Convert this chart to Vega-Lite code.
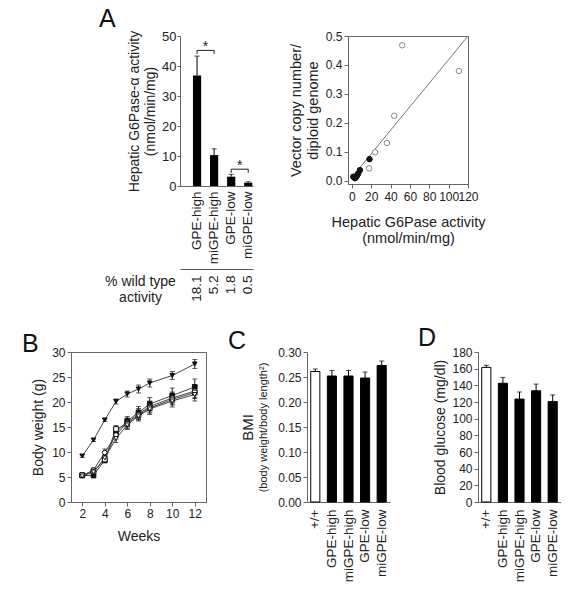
{
  "$schema": "https://vega.github.io/schema/vega-lite/v6.json",
  "background": "white",
  "padding": {"left": 21, "top": 7, "right": 0, "bottom": 0},
  "bounds": "flush",
  "spacing": 316,
  "resolve": {"scale": {"fill": "independent", "shape": "independent", "stroke": "independent"}},
  "config": {
    "font": "Liberation Sans",
    "view": {"stroke": null},
    "axis": {
      "grid": false,
      "domainColor": "#666",
      "tickColor": "#666",
      "labelColor": "#222",
      "titleColor": "#222",
      "labelFont": "Liberation Sans",
      "titleFont": "Liberation Sans",
      "titleFontWeight": "normal",
      "labelFontSize": 12,
      "titleFontSize": 14,
      "tickSize": 4,
      "labelPadding": 2,
      "labelOverlap": false,
      "labelFlush": false
    },
    "title": {
      "anchor": "start",
      "frame": "group",
      "fontSize": 25,
      "fontWeight": "normal",
      "color": "#111",
      "baseline": "alphabetic",
      "offset": 0
    }
  },
  "datasets": {
    "abar": [
      {"group": "GPE-high", "pct": "18.1", "activity": 36.8, "hi": 43.3},
      {"group": "miGPE-high", "pct": "5.2", "activity": 10.3, "hi": 12.4},
      {"group": "GPE-low", "pct": "1.8", "activity": 3.1, "hi": 3.9},
      {"group": "miGPE-low", "pct": "0.5", "activity": 1.1, "hi": 1.4}
    ],
    "brackets": [
      {"a": "GPE-high", "b": "miGPE-high", "y": 45.2, "ytick": 44.0, "star": "*"},
      {"a": "GPE-low", "b": "miGPE-low", "y": 5.6, "ytick": 4.4, "star": "*"}
    ],
    "scatter": [
      {"activity": 52.0, "copies": 0.468, "type": "open"},
      {"activity": 110.6, "copies": 0.379, "type": "open"},
      {"activity": 43.7, "copies": 0.224, "type": "open"},
      {"activity": 36.2, "copies": 0.130, "type": "open"},
      {"activity": 24.1, "copies": 0.098, "type": "open"},
      {"activity": 17.9, "copies": 0.042, "type": "open"},
      {"activity": 18.2, "copies": 0.074, "type": "filled"},
      {"activity": 8.3, "copies": 0.036, "type": "filled"},
      {"activity": 6.5, "copies": 0.024, "type": "filled"},
      {"activity": 5.5, "copies": 0.018, "type": "filled"},
      {"activity": 4.3, "copies": 0.011, "type": "filled"},
      {"activity": 3.2, "copies": 0.008, "type": "filled"},
      {"activity": 1.5, "copies": 0.013, "type": "filled"}
    ],
    "fit": [
      {"activity": 0, "copies": 0.011},
      {"activity": 120, "copies": 0.5}
    ],
    "weights": [
      {"series": "+/+", "week": 2, "mean": 9.2, "lo": 8.9, "hi": 9.5},
      {"series": "+/+", "week": 3, "mean": 12.4, "lo": 12.1, "hi": 12.7},
      {"series": "+/+", "week": 4, "mean": 16.4, "lo": 16.1, "hi": 16.7},
      {"series": "+/+", "week": 5, "mean": 20.1, "lo": 19.6, "hi": 20.6},
      {"series": "+/+", "week": 6, "mean": 21.6, "lo": 21.0, "hi": 22.2},
      {"series": "+/+", "week": 7, "mean": 22.6, "lo": 21.8, "hi": 23.4},
      {"series": "+/+", "week": 8, "mean": 23.8, "lo": 23.0, "hi": 24.6},
      {"series": "+/+", "week": 10, "mean": 25.3, "lo": 24.5, "hi": 26.1},
      {"series": "+/+", "week": 12, "mean": 27.6, "lo": 26.7, "hi": 28.5},
      {"series": "GPE-high", "week": 2, "mean": 5.3, "lo": 5.0, "hi": 5.6},
      {"series": "GPE-high", "week": 3, "mean": 5.3, "lo": 4.9, "hi": 5.7},
      {"series": "GPE-high", "week": 4, "mean": 8.4, "lo": 7.8, "hi": 9.0},
      {"series": "GPE-high", "week": 5, "mean": 13.9, "lo": 13.1, "hi": 14.7},
      {"series": "GPE-high", "week": 6, "mean": 16.2, "lo": 15.3, "hi": 17.1},
      {"series": "GPE-high", "week": 7, "mean": 17.9, "lo": 16.7, "hi": 19.1},
      {"series": "GPE-high", "week": 8, "mean": 19.6, "lo": 18.3, "hi": 20.9},
      {"series": "GPE-high", "week": 10, "mean": 21.3, "lo": 19.8, "hi": 22.8},
      {"series": "GPE-high", "week": 12, "mean": 23.0, "lo": 21.4, "hi": 24.6},
      {"series": "miGPE-high", "week": 2, "mean": 5.3, "lo": 5.0, "hi": 5.6},
      {"series": "miGPE-high", "week": 3, "mean": 6.4, "lo": 6.0, "hi": 6.8},
      {"series": "miGPE-high", "week": 4, "mean": 9.9, "lo": 9.2, "hi": 10.6},
      {"series": "miGPE-high", "week": 5, "mean": 13.4, "lo": 12.6, "hi": 14.2},
      {"series": "miGPE-high", "week": 6, "mean": 15.9, "lo": 15.0, "hi": 16.8},
      {"series": "miGPE-high", "week": 7, "mean": 17.6, "lo": 16.5, "hi": 18.7},
      {"series": "miGPE-high", "week": 8, "mean": 19.1, "lo": 18.0, "hi": 20.2},
      {"series": "miGPE-high", "week": 10, "mean": 20.8, "lo": 19.6, "hi": 22.0},
      {"series": "miGPE-high", "week": 12, "mean": 22.2, "lo": 20.9, "hi": 23.5},
      {"series": "GPE-low", "week": 2, "mean": 5.4, "lo": 5.1, "hi": 5.7},
      {"series": "GPE-low", "week": 3, "mean": 6.1, "lo": 5.7, "hi": 6.5},
      {"series": "GPE-low", "week": 4, "mean": 8.5, "lo": 7.9, "hi": 9.1},
      {"series": "GPE-low", "week": 5, "mean": 14.6, "lo": 13.9, "hi": 15.3},
      {"series": "GPE-low", "week": 6, "mean": 15.6, "lo": 14.7, "hi": 16.5},
      {"series": "GPE-low", "week": 7, "mean": 17.4, "lo": 16.4, "hi": 18.4},
      {"series": "GPE-low", "week": 8, "mean": 18.8, "lo": 17.8, "hi": 19.8},
      {"series": "GPE-low", "week": 10, "mean": 20.5, "lo": 19.4, "hi": 21.6},
      {"series": "GPE-low", "week": 12, "mean": 21.9, "lo": 20.7, "hi": 23.1},
      {"series": "miGPE-low", "week": 2, "mean": 5.2, "lo": 4.9, "hi": 5.5},
      {"series": "miGPE-low", "week": 3, "mean": 6.0, "lo": 5.6, "hi": 6.4},
      {"series": "miGPE-low", "week": 4, "mean": 8.8, "lo": 8.2, "hi": 9.4},
      {"series": "miGPE-low", "week": 5, "mean": 12.7, "lo": 11.9, "hi": 13.5},
      {"series": "miGPE-low", "week": 6, "mean": 15.4, "lo": 14.5, "hi": 16.3},
      {"series": "miGPE-low", "week": 7, "mean": 17.2, "lo": 16.2, "hi": 18.2},
      {"series": "miGPE-low", "week": 8, "mean": 18.6, "lo": 17.5, "hi": 19.7},
      {"series": "miGPE-low", "week": 10, "mean": 20.2, "lo": 19.0, "hi": 21.4},
      {"series": "miGPE-low", "week": 12, "mean": 21.5, "lo": 20.2, "hi": 22.8}
    ],
    "bmi": [
      {"group": "+/+", "kind": "wild type", "bmi": 0.261, "hi": 0.266},
      {"group": "GPE-high", "kind": "treated", "bmi": 0.252, "hi": 0.263},
      {"group": "miGPE-high", "kind": "treated", "bmi": 0.252, "hi": 0.263},
      {"group": "GPE-low", "kind": "treated", "bmi": 0.248, "hi": 0.260},
      {"group": "miGPE-low", "kind": "treated", "bmi": 0.273, "hi": 0.282}
    ],
    "glucose": [
      {"group": "+/+", "kind": "wild type", "glucose": 161.5, "hi": 164},
      {"group": "GPE-high", "kind": "treated", "glucose": 142.5, "hi": 149.5},
      {"group": "miGPE-high", "kind": "treated", "glucose": 123.5, "hi": 132},
      {"group": "GPE-low", "kind": "treated", "glucose": 133.5, "hi": 141.5},
      {"group": "miGPE-low", "kind": "treated", "glucose": 120.5, "hi": 128.5}
    ]
  },
  "vconcat": [
    {
      "bounds": "flush",
      "spacing": 95,
      "resolve": {"scale": {"fill": "independent", "shape": "independent", "stroke": "independent"}},
      "hconcat": [
        {
          "width": 14,
          "height": 10,
          "data": {"values": [{"blank": 1}]},
          "mark": {"type": "point", "opacity": 0},
          "encoding": {}
        },
        {
          "width": 73,
          "height": 150,
          "title": {"text": "A", "dx": -81, "dy": 6},
          "layer": [
            {
              "layer": [
                {
                  "data": {"name": "abar"},
                  "mark": {"type": "bar", "color": "#000"},
                  "encoding": {
                    "x": {
                      "field": "group", "type": "nominal",
                      "scale": {"domain": ["GPE-high", "miGPE-high", "GPE-low", "miGPE-low"], "paddingInner": 0.52, "paddingOuter": 0.4, "align": 0.95},
                      "axis": {"title": null, "labelAngle": -90, "ticks": false, "domain": true, "labelFontSize": 13.5, "labelPadding": 5}
                    },
                    "y": {
                      "field": "activity", "type": "quantitative",
                      "scale": {"domain": [0, 50], "nice": false},
                      "axis": {"values": [0, 10, 20, 30, 40, 50], "tickCount": 20, "format": "d", "title": ["Hepatic G6Pase-α activity", "(nmol/min/mg)"], "labelFontSize": 13, "tickSize": 3, "labelPadding": 1, "titlePadding": 4, "titleFontSize": 14}
                    }
                  }
                },
                {
                  "data": {"name": "abar"},
                  "mark": {"type": "rule", "color": "#000", "strokeWidth": 1},
                  "encoding": {
                    "x": {"field": "group", "type": "nominal", "bandPosition": 0.5, "scale": {"domain": ["GPE-high", "miGPE-high", "GPE-low", "miGPE-low"], "paddingInner": 0.52, "paddingOuter": 0.4, "align": 0.95}},
                    "y": {"field": "activity", "type": "quantitative"},
                    "y2": {"field": "hi"}
                  }
                },
                {
                  "data": {"name": "abar"},
                  "mark": {"type": "tick", "orient": "horizontal", "color": "#000", "size": 5, "thickness": 1},
                  "encoding": {
                    "x": {"field": "group", "type": "nominal", "scale": {"domain": ["GPE-high", "miGPE-high", "GPE-low", "miGPE-low"], "paddingInner": 0.52, "paddingOuter": 0.4, "align": 0.95}},
                    "y": {"field": "hi", "type": "quantitative"}
                  }
                },
                {
                  "data": {"name": "brackets"},
                  "mark": {"type": "rule", "color": "#222", "strokeWidth": 1},
                  "encoding": {
                    "x": {"field": "a", "type": "nominal", "bandPosition": 0.5, "scale": {"domain": ["GPE-high", "miGPE-high", "GPE-low", "miGPE-low"], "paddingInner": 0.52, "paddingOuter": 0.4, "align": 0.95}},
                    "x2": {"field": "b"},
                    "y": {"field": "y", "type": "quantitative"}
                  }
                },
                {
                  "data": {"name": "brackets"},
                  "mark": {"type": "rule", "color": "#222", "strokeWidth": 1},
                  "encoding": {
                    "x": {"field": "a", "type": "nominal", "bandPosition": 0.5, "scale": {"domain": ["GPE-high", "miGPE-high", "GPE-low", "miGPE-low"], "paddingInner": 0.52, "paddingOuter": 0.4, "align": 0.95}},
                    "y": {"field": "y", "type": "quantitative"},
                    "y2": {"field": "ytick"}
                  }
                },
                {
                  "data": {"name": "brackets"},
                  "mark": {"type": "rule", "color": "#222", "strokeWidth": 1},
                  "encoding": {
                    "x": {"field": "b", "type": "nominal", "bandPosition": 0.5, "scale": {"domain": ["GPE-high", "miGPE-high", "GPE-low", "miGPE-low"], "paddingInner": 0.52, "paddingOuter": 0.4, "align": 0.95}},
                    "y": {"field": "y", "type": "quantitative"},
                    "y2": {"field": "ytick"}
                  }
                },
                {
                  "data": {"name": "brackets"},
                  "mark": {"type": "text", "fontSize": 14, "color": "#222", "baseline": "alphabetic", "dx": 8.5, "dy": 1},
                  "encoding": {
                    "x": {"field": "a", "type": "nominal", "bandPosition": 0.5, "scale": {"domain": ["GPE-high", "miGPE-high", "GPE-low", "miGPE-low"], "paddingInner": 0.52, "paddingOuter": 0.4, "align": 0.95}},
                    "y": {"field": "y", "type": "quantitative"},
                    "text": {"field": "star"}
                  }
                }
              ]
            },
            {
              "data": {"name": "abar"},
              "mark": {"type": "bar", "opacity": 0},
              "encoding": {
                "x": {
                  "field": "pct", "type": "nominal",
                  "scale": {"domain": ["18.1", "5.2", "1.8", "0.5"], "paddingInner": 0.52, "paddingOuter": 0.4, "align": 0.95},
                  "axis": {"orient": "bottom", "offset": 83, "labelAngle": -90, "ticks": false, "domain": true, "domainColor": "#555", "domainWidth": 1, "labelFontSize": 13.5, "labelPadding": 6, "title": ["% wild type", "activity"], "titleFontSize": 14, "titleAngle": 0, "titleAlign": "center", "titleBaseline": "top", "titleX": -40, "titleY": 5, "titleLineHeight": 16}
                },
                "y": {"field": "activity", "type": "quantitative"}
              }
            }
          ],
          "resolve": {"scale": {"x": "independent"}, "axis": {"x": "independent"}}
        },
        {
          "width": 120,
          "height": 148,
          "view": {"stroke": "#666"},
          "layer": [
            {
              "data": {"name": "fit"},
              "mark": {"type": "line", "color": "#777", "strokeWidth": 1, "clip": true},
              "encoding": {
                "x": {"field": "activity", "type": "quantitative", "scale": {"domain": [-4, 120], "nice": false, "zero": false},
                  "axis": {"values": [0, 20, 40, 60, 80, 100, 120], "tickCount": 20, "format": "d", "title": ["Hepatic G6Pase activity", "(nmol/min/mg)"], "titleFontSize": 14.5, "labelPadding": 3, "titlePadding": 13}},
                "y": {"field": "copies", "type": "quantitative", "scale": {"domain": [-0.012, 0.5], "nice": false, "zero": false},
                  "axis": {"values": [0, 0.1, 0.2, 0.3, 0.4, 0.5], "tickCount": 20, "format": ".1f", "title": ["Vector copy number/", "diploid genome"], "titleFontSize": 14.5, "titlePadding": 5}}
              }
            },
            {
              "data": {"name": "scatter"},
              "mark": {"type": "point", "filled": true, "size": 30, "strokeWidth": 1, "opacity": 1},
              "encoding": {
                "x": {"field": "activity", "type": "quantitative"},
                "y": {"field": "copies", "type": "quantitative"},
                "fill": {"field": "type", "type": "nominal", "scale": {"domain": ["open", "filled"], "range": ["white", "#111"]}, "legend": null},
                "stroke": {"field": "type", "type": "nominal", "scale": {"domain": ["open", "filled"], "range": ["#888", "#111"]}, "legend": null}
              }
            }
          ]
        }
      ]
    },
    {
      "bounds": "flush",
      "spacing": 101,
      "resolve": {"scale": {"fill": "independent", "shape": "independent", "stroke": "independent"}},
      "hconcat": [
        {
          "width": 135,
          "height": 150,
          "view": {"stroke": "#666"},
          "title": {"text": "B", "dx": -49, "dy": 15},
          "data": {"name": "weights"},
          "layer": [
            {
              "mark": {"type": "line", "color": "#444", "strokeWidth": 1},
              "encoding": {
                "x": {"field": "week", "type": "quantitative", "scale": {"domain": [1, 13], "nice": false, "zero": false},
                  "axis": {"values": [2, 4, 6, 8, 10, 12], "tickCount": 20, "format": "d", "title": "Weeks", "titlePadding": 10}},
                "y": {"field": "mean", "type": "quantitative", "scale": {"domain": [0, 30], "nice": false},
                  "axis": {"values": [0, 5, 10, 15, 20, 25, 30], "tickCount": 20, "format": "d", "title": "Body weight (g)", "titlePadding": 6}},
                "detail": {"field": "series", "type": "nominal"}
              }
            },
            {
              "mark": {"type": "rule", "color": "#222", "strokeWidth": 1},
              "encoding": {
                "x": {"field": "week", "type": "quantitative"},
                "y": {"field": "lo", "type": "quantitative"},
                "y2": {"field": "hi"}
              }
            },
            {
              "mark": {"type": "tick", "orient": "horizontal", "color": "#222", "size": 5, "thickness": 1},
              "encoding": {
                "x": {"field": "week", "type": "quantitative"},
                "y": {"field": "hi", "type": "quantitative"}
              }
            },
            {
              "mark": {"type": "tick", "orient": "horizontal", "color": "#222", "size": 5, "thickness": 1},
              "encoding": {
                "x": {"field": "week", "type": "quantitative"},
                "y": {"field": "lo", "type": "quantitative"}
              }
            },
            {
              "mark": {"type": "point", "filled": true, "size": 22, "strokeWidth": 1, "opacity": 1},
              "encoding": {
                "x": {"field": "week", "type": "quantitative"},
                "y": {"field": "mean", "type": "quantitative"},
                "shape": {"field": "series", "type": "nominal", "scale": {"domain": ["+/+", "GPE-high", "miGPE-high", "GPE-low", "miGPE-low"], "range": ["triangle-down", "square", "circle", "square", "triangle-down"]}, "legend": null},
                "fill": {"field": "series", "type": "nominal", "scale": {"domain": ["+/+", "GPE-high", "miGPE-high", "GPE-low", "miGPE-low"], "range": ["#111", "#111", "white", "white", "white"]}, "legend": null},
                "stroke": {"value": "#111"}
              }
            }
          ]
        },
        {
          "bounds": "flush",
          "spacing": 88,
          "resolve": {"scale": {"fill": "independent", "shape": "independent", "stroke": "independent"}},
          "hconcat": [
            {
              "width": 83,
              "height": 150,
              "title": {"text": "C", "dx": -79, "dy": 12},
              "data": {"name": "bmi"},
              "layer": [
                {
                  "mark": {"type": "bar", "stroke": "#000", "strokeWidth": 1},
                  "encoding": {
                    "x": {"field": "group", "type": "nominal", "scale": {"domain": ["+/+", "GPE-high", "miGPE-high", "GPE-low", "miGPE-low"], "paddingInner": 0.45, "paddingOuter": 0.225},
                      "axis": {"title": null, "labelAngle": -90, "ticks": false, "labelFontSize": 13.5, "labelPadding": 7}},
                    "y": {"field": "bmi", "type": "quantitative", "scale": {"domain": [0, 0.3], "nice": false},
                      "axis": {"orient": "left", "values": [0, 0.05, 0.1, 0.15, 0.2, 0.25, 0.3], "tickCount": 20, "format": ".2f", "title": "(body weight/body length²)", "titleFontSize": 11, "titlePadding": 9}},
                    "fill": {"field": "kind", "type": "nominal", "scale": {"domain": ["wild type", "treated"], "range": ["white", "#000"]}, "legend": null}
                  }
                },
                {
                  "mark": {"type": "rule", "color": "#000", "strokeWidth": 1},
                  "encoding": {
                    "x": {"field": "group", "type": "nominal"},
                    "y": {"field": "bmi", "type": "quantitative", "axis": null},
                    "y2": {"field": "hi"}
                  }
                },
                {
                  "mark": {"type": "tick", "orient": "horizontal", "color": "#000", "size": 5, "thickness": 1},
                  "encoding": {
                    "x": {"field": "group", "type": "nominal"},
                    "y": {"field": "hi", "type": "quantitative", "axis": null}
                  }
                },
                {
                  "mark": {"type": "bar", "opacity": 0},
                  "encoding": {
                    "x": {"field": "group", "type": "nominal"},
                    "y": {"field": "bmi", "type": "quantitative",
                      "axis": {"orient": "left", "title": "BMI", "labels": false, "ticks": false, "domain": false, "offset": 0, "titleX": -60, "titleY": 75, "titleBaseline": "middle", "titleAngle": -90, "titleAlign": "center", "titleFontSize": 15}}
                  }
                }
              ],
              "resolve": {"axis": {"y": "independent"}}
            },
            {
              "width": 83,
              "height": 150,
              "title": {"text": "D", "dx": -60, "dy": 9},
              "data": {"name": "glucose"},
              "layer": [
                {
                  "mark": {"type": "bar", "stroke": "#000", "strokeWidth": 1},
                  "encoding": {
                    "x": {"field": "group", "type": "nominal", "scale": {"domain": ["+/+", "GPE-high", "miGPE-high", "GPE-low", "miGPE-low"], "paddingInner": 0.45, "paddingOuter": 0.225},
                      "axis": {"title": null, "labelAngle": -90, "ticks": false, "labelFontSize": 13.5, "labelPadding": 7}},
                    "y": {"field": "glucose", "type": "quantitative", "scale": {"domain": [0, 180], "nice": false},
                      "axis": {"values": [0, 20, 40, 60, 80, 100, 120, 140, 160, 180], "tickCount": 20, "format": "d", "title": "Blood glucose (mg/dl)", "titlePadding": 4}},
                    "fill": {"field": "kind", "type": "nominal", "scale": {"domain": ["wild type", "treated"], "range": ["white", "#000"]}, "legend": null}
                  }
                },
                {
                  "mark": {"type": "rule", "color": "#000", "strokeWidth": 1},
                  "encoding": {
                    "x": {"field": "group", "type": "nominal"},
                    "y": {"field": "glucose", "type": "quantitative"},
                    "y2": {"field": "hi"}
                  }
                },
                {
                  "mark": {"type": "tick", "orient": "horizontal", "color": "#000", "size": 5, "thickness": 1},
                  "encoding": {
                    "x": {"field": "group", "type": "nominal"},
                    "y": {"field": "hi", "type": "quantitative"}
                  }
                }
              ]
            }
          ]
        }
      ]
    }
  ]
}
